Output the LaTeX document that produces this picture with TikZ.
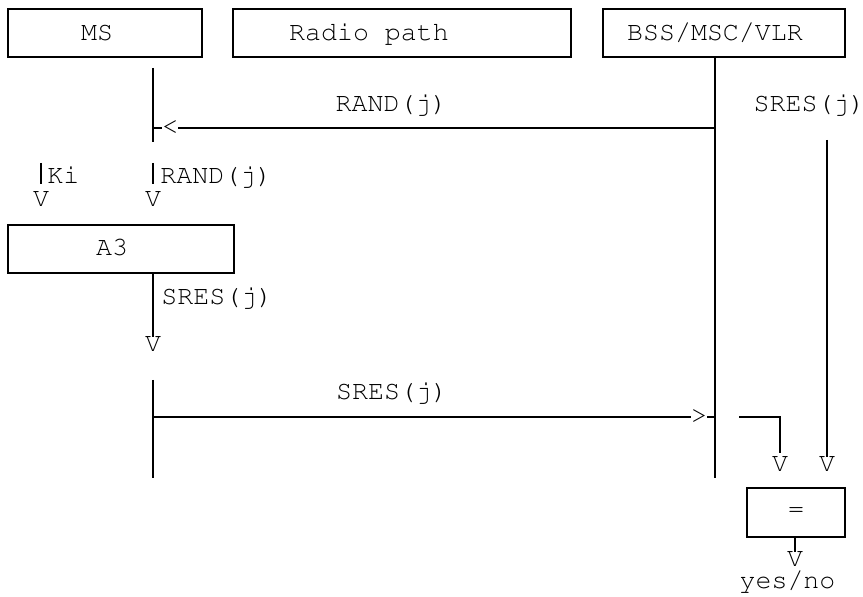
\documentclass[tikz,border=0pt]{standalone}
\usepackage[T1]{fontenc}
\usepackage{courier}
\tikzset{
  box/.style={draw, line width=1pt, minimum height=24pt, inner sep=0pt, font=\ttfamily\fontsize{13.3}{16}\selectfont},
  glyph/.style={inner sep=0pt, anchor=base, font=\ttfamily\fontsize{13.3}{16}\selectfont},
  tip/.style={inner sep=0pt, anchor=center, font=\ttfamily\fontsize{13.3}{16}\selectfont},
  wire/.style={line width=1pt},
}
\begin{document}
\begin{tikzpicture}[x=0.5pt,y=-0.5pt]
        \useasboundingbox (0,0) rectangle (863,597);
        % entities
        \node[box, minimum width=97pt] at (105,33) (ms) {};
        \node[glyph] at (97,41) (mstext) {MS};
        \node[box, minimum width=169pt] at (402,33) (radio) {};
        \node[glyph] at (369,41) (radiotext) {Radio path};
        \node[box, minimum width=121pt] at (724,33) (bss) {};
        \node[glyph] at (715,41) (bsstext) {BSS/MSC/VLR};

        \coordinate (mstop) at (153,68);
        \coordinate (msbot) at (153,142);
        \coordinate (bsstop) at (715,57);
        \coordinate (bssbot) at (715,478);
        \draw[wire] (mstop) -- (msbot);
        \draw[wire] (bsstop) -- (bssbot);

        % RAND(j) to the MS
        \node[tip] at (170,128) (randtip) {<};
        \node[glyph] at (391.5,112) (randlabel) {RAND(j)};
        \draw[wire] (randtip.east) -- (randtip.east -| bsstop);
        \draw[wire] (randtip.west -| mstop) -- (randtip.west);

        % inputs of A3
        \coordinate (kitop) at (41,163);
        \node[glyph] at (41,207) (kiv) {V};
        \node[glyph, anchor=base west] at (47,184) (kilabel) {Ki};
        \draw[wire] (kitop) -- ([yshift=4pt]kiv.north);
        \coordinate (randtop) at (153,163);
        \node[glyph] at (153,207) (randv) {V};
        \node[glyph, anchor=base west] at (160,184) (randin) {RAND(j)};
        \draw[wire] (randtop) -- ([yshift=4pt]randv.north);

        \node[box, minimum width=113pt] at (121,249) (a3) {};
        \node[glyph] at (112,256) (a3text) {A3};
        \node[glyph] at (153,352) (sresv) {V};
        \node[glyph, anchor=base west] at (161,305) (sresout) {SRES(j)};
        \draw[wire] (a3.south -| sresv) -- (sresv.north);

        % SRES(j) back to the network
        \coordinate (ms2top) at (153,380);
        \coordinate (ms2bot) at (153,478);
        \draw[wire] (ms2top) -- (ms2bot);
        \node[tip] at (699,417) (srestip) {>};
        \node[glyph] at (392,400) (sreslabel) {SRES(j)};
        \draw[wire] (srestip.west -| ms2top) -- (srestip.west);
        \draw[wire] (srestip.east) -- (srestip.east -| bsstop);

        % comparison
        \node[glyph] at (809.5,112) (sresright) {SRES(j)};
        \coordinate (cmptop) at (827,140);
        \node[glyph] at (827,472) (cmpv2) {V};
        \draw[wire] (cmptop) -- (cmpv2.north);
        \coordinate (brstart) at (739,417);
        \node[glyph] at (780,472) (cmpv1) {V};
        \draw[wire] (brstart) -| ([yshift=2pt]cmpv1.north);
        \node[box, minimum width=49pt, minimum height=24.5pt] at (796,512.5) (eq) {=};
        \node[glyph] at (795,567) (resv) {V};
        \draw[wire] (eq.south -| resv) -- (resv.north);
        \node[glyph] at (787.5,589) (result) {yes/no};

    \end{tikzpicture}
\end{document}
